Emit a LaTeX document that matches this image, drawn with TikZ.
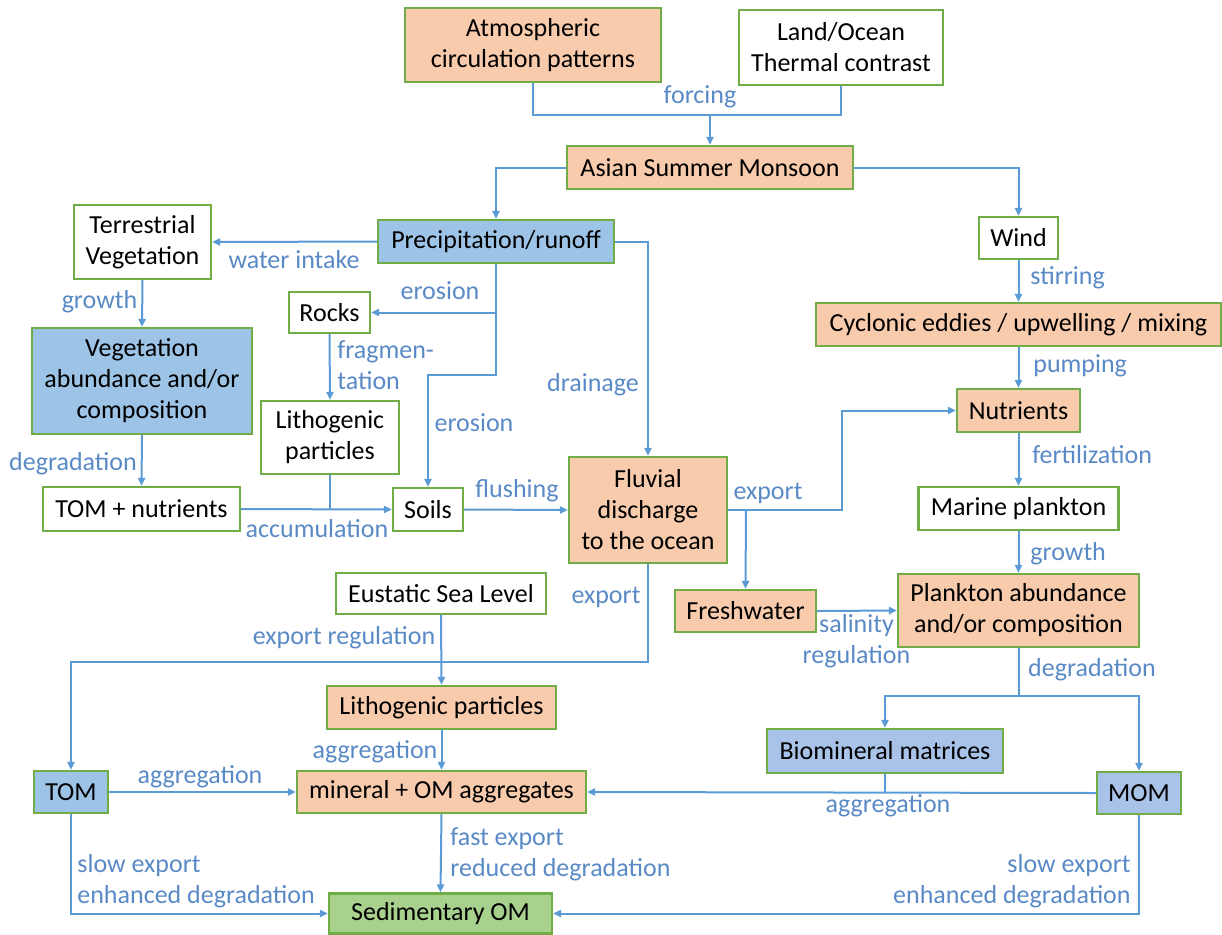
\documentclass[tikz,border=0pt]{standalone}
\usepackage{fontspec}
\setmainfont{Carlito}
\usetikzlibrary{arrows.meta}
\definecolor{orfill}{HTML}{F8CBAD}
\definecolor{blfill}{HTML}{9DC3E6}
\definecolor{lbfill}{HTML}{A9C3E8}
\definecolor{grfill}{HTML}{A9D18E}
\definecolor{bord}{HTML}{70AD47}
\definecolor{lin}{HTML}{5B9BD5}
\definecolor{lab}{HTML}{5A8AC6}
\tikzset{
  bx/.style={draw=bord, line width=1.2pt, align=center, inner sep=0pt, fill=white,
    font=\fontsize{13}{15.5}\selectfont, text=black},
  sz/.style 2 args={minimum width=#1*0.5pt, minimum height=#2*0.5pt},
  orb/.style={bx, fill=orfill},
  blb/.style={bx, fill=blfill},
  lbb/.style={bx, fill=lbfill},
  grb/.style={bx, fill=grfill},
  conn/.style={draw=lin, line width=1pt},
  arr/.style={conn, -{Triangle[length=4pt,width=3.6pt]}},
  lbl/.style={text=lab, inner sep=0pt, font=\fontsize{13}{15.5}\selectfont},
}
\begin{document}
\begin{tikzpicture}[x=0.5pt, y=-0.5pt]
\useasboundingbox (0,0) rectangle (1222,934);
% boxes
\node[orb, sz={256}{74}] (atm) at (533,45) {Atmospheric\\circulation patterns};
\node[bx, sz={204}{75}] (land) at (841,47.5) {Land/Ocean\\Thermal contrast};
\node[orb, sz={286}{43}] (asian) at (710,167.5) {Asian Summer Monsoon};
\node[bx, sz={79}{42}] (wind) at (1018.5,238) {Wind};
\node[blb, sz={236}{43}] (precip) at (496,241.5) {Precipitation/runoff};
\node[bx, sz={137}{74}] (terr) at (142.5,242) {Terrestrial\\Vegetation};
\node[bx, sz={81}{41}] (rocks) at (329.5,312.5) {Rocks};
\node[orb, sz={405}{43}] (cyc) at (1018.5,324.5) {Cyclonic eddies / upwelling / mixing};
\node[blb, sz={220}{106}] (veg) at (142,381) {Vegetation\\abundance and/or\\composition};
\node[bx, sz={138}{73}] (lith1) at (330,437.5) {Lithogenic\\particles};
\node[orb, sz={123}{43}] (nutr) at (1018.5,410.5) {Nutrients};
\node[bx, sz={197}{44}] (tomn) at (141.5,509) {TOM + nutrients};
\node[bx, sz={70}{43}] (soils) at (428,509.5) {Soils};
\node[orb, sz={158}{106}] (fluv) at (648,510) {Fluvial\\discharge\\to the ocean};
\node[bx, sz={200}{43}] (marine) at (1018.5,508.5) {Marine plankton};
\node[bx, sz={210}{41}] (eust) at (441,593.5) {Eustatic Sea Level};
\node[orb, sz={141}{42}] (fresh) at (745.5,611) {Freshwater};
\node[orb, sz={241}{73}] (plank) at (1018.5,610.5) {Plankton abundance\\and/or composition};
\node[orb, sz={229}{43}] (lith2) at (441.5,707.5) {Lithogenic particles};
\node[lbb, sz={236}{44}] (biomin) at (885,751) {Biomineral matrices};
\node[blb, sz={74}{42}] (tom) at (71,792) {TOM};
\node[orb, sz={289}{42}] (mineral) at (441.5,792) {mineral + OM aggregates};
\node[lbb, sz={84}{42}] (mom) at (1139,793) {MOM};
\node[grb, sz={223}{40}] (sed) at (440.5,913.5) {Sedimentary OM};
% coordinates
\coordinate (f) at (710,115);
\coordinate (e2) at (496,375);
\coordinate (x1) at (842,510);
\coordinate (x2) at (746,510);
\coordinate (x3) at (648,662);
\coordinate (d) at (1018.5,696);
% connectors
\draw[conn] (atm.south) |- (f);
\draw[conn] (land.south) |- (f);
\draw[arr] (f) -- (asian.north);
\draw[arr] (asian.west) -| (precip.north);
\draw[arr] (asian.east) -| (wind.north);
\draw[arr] (wind.south) -- (cyc.north);
\draw[arr] (precip.west) -- (terr.east);
\draw[arr] (precip.south) |- (rocks.east);
\draw[arr] (precip.south) -- (e2) -| (soils.north);
\draw[arr] (precip.east) -| (fluv.north);
\draw[arr] (terr.south) -- (veg.north);
\draw[arr] (veg.south) -- (tomn.north);
\draw[arr] (rocks.south) -- (lith1.north);
\draw[arr] (tomn.east) -- (soils.west);
\draw[conn] (lith1.south) -- (lith1.south |- tomn.east);
\draw[arr] (soils.east) -- (fluv.west);
\draw[arr] (fluv.east) -- (x1) |- (nutr.west);
\draw[arr] (x2) -- (fresh.north);
\draw[arr] (fresh.east) -- (plank.west);
\draw[arr] (cyc.south) -- (nutr.north);
\draw[arr] (nutr.south) -- (marine.north);
\draw[arr] (marine.south) -- (plank.north);
\draw[arr] (fluv.south) -- (x3) -| (tom.north);
\draw[arr] (eust.south) -- (lith2.north);
\draw[arr] (lith2.south) -- (mineral.north);
\draw[arr] (tom.east) -- (mineral.west);
\draw[arr] (mom.west) -- (mineral.east);
\draw[conn] (biomin.south) -- (biomin.south |- mom.west);
\draw[conn] (plank.south) -- (d);
\draw[arr] (d) -| (biomin.north);
\draw[arr] (d) -| (mom.north);
\draw[arr] (mineral.south) -- (sed.north);
\draw[arr] (tom.south) |- (sed.west);
\draw[arr] (mom.south) |- (sed.east);
% labels
\node[lbl] (l1) at (700,97) {forcing};
\node[lbl, anchor=west] (l2) at (1030,278) {stirring};
\node[lbl] (l3) at (294,260) {water intake};
\node[lbl] (l4) at (440,291) {erosion};
\node[lbl] (l5) at (474,423) {erosion};
\node[lbl] (l6) at (593,385) {drainage};
\node[lbl] (l7) at (99.5,302) {growth};
\node[lbl] (l8) at (73,464) {degradation};
\node[lbl, anchor=west, align=left] (l9) at (337,365.5) {fragmen-\\tation};
\node[lbl] (l10) at (317,529) {accumulation};
\node[lbl] (l11) at (517,491) {flushing};
\node[lbl] (l12) at (768,493) {export};
\node[lbl, align=center] (l13) at (856.5,641.5) {salinity\\regulation};
\node[lbl, anchor=west] (l14) at (1033,366) {pumping};
\node[lbl, anchor=west] (l15) at (1032,455) {fertilization};
\node[lbl, anchor=west] (l16) at (1030,554) {growth};
\node[lbl] (l17) at (606,597) {export};
\node[lbl] (l18) at (344,638) {export regulation};
\node[lbl] (l19) at (375,752) {aggregation};
\node[lbl] (l20) at (200,777) {aggregation};
\node[lbl] (l21) at (888,806) {aggregation};
\node[lbl] (l22) at (1092,670) {degradation};
\node[lbl, anchor=west, align=left] (l23) at (450,854.5) {fast export\\reduced degradation};
\node[lbl, anchor=west, align=left] (l24) at (77,881) {slow export\\enhanced degradation};
\node[lbl, anchor=east, align=right] (l25) at (1131,881) {slow export\\enhanced degradation};
\end{tikzpicture}
\end{document}
